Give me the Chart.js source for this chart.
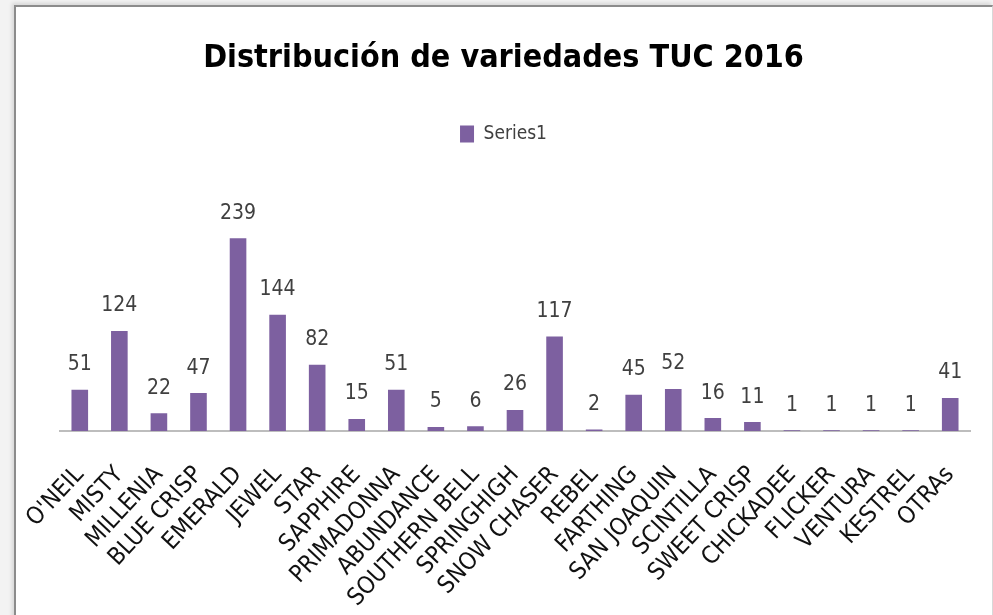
<!DOCTYPE html>
<html>
<head>
<meta charset="utf-8">
<script src="https://cdn.jsdelivr.net/npm/chart.js@4.4.1/dist/chart.umd.min.js"></script>
<style>
  html, body { margin: 0; padding: 0; width: 993px; height: 615px; overflow: hidden; background: #f3f3f3; }
  #frame { position: absolute; left: 14px; top: 5px; width: 976px; height: 640px; background: #fff;
           border-left: 2px solid #8c8c8c; border-top: 2px solid #8c8c8c; border-right: 1px solid #d8d8d8;
           box-shadow: -2px -2px 4px rgba(0,0,0,0.12); }
  #wrap { position: absolute; left: 0; top: 0; width: 993px; height: 615px; }
</style>
</head>
<body>
<div id="frame"></div>
<div id="wrap"><canvas id="c" width="993" height="615"></canvas></div>
<script>
const categories = ["O'NEIL", "MISTY", "MILLENIA", "BLUE CRISP", "EMERALD", "JEWEL", "STAR", "SAPPHIRE",
  "PRIMADONNA", "ABUNDANCE", "SOUTHERN BELL", "SPRINGHIGH", "SNOW CHASER", "REBEL", "FARTHING",
  "SAN JOAQUIN", "SCINTILLA", "SWEET CRISP", "CHICKADEE", "FLICKER", "VENTURA", "KESTREL", "OTRAs"];
const series1 = [51, 124, 22, 47, 239, 144, 82, 15, 51, 5, 6, 26, 117, 2, 45, 52, 16, 11, 1, 1, 1, 1, 41];
const seriesName = "Series1";
const chartTitle = "Distribución de variedades TUC 2016";

const FONT = "'DejaVu Sans Condensed', 'DejaVu Sans', sans-serif";

const valueLabels = {
  id: 'valueLabels',
  afterDatasetsDraw(chart) {
    const ctx = chart.ctx;
    ctx.save();
    ctx.font = "21px " + FONT;
    ctx.fillStyle = '#404040';
    ctx.textAlign = 'center';
    ctx.textBaseline = 'middle';
    const meta = chart.getDatasetMeta(0);
    meta.data.forEach((bar, i) => {
      ctx.fillText(String(chart.data.datasets[0].data[i]), bar.x, bar.y - 25);
    });
    ctx.restore();
  }
};

new Chart(document.getElementById('c'), {
  type: 'bar',
  data: {
    labels: categories,
    datasets: [{
      label: seriesName,
      data: series1,
      backgroundColor: '#7d60a0',
      borderWidth: 0,
      barPercentage: 0.42,
      categoryPercentage: 1.0
    }]
  },
  options: {
    responsive: false,
    animation: false,
    layout: { padding: { left: 37, right: 23, top: 0, bottom: 0 } },
    plugins: {
      title: {
        display: true,
        text: chartTitle,
        color: '#000',
        font: { family: FONT, size: 32, weight: 'bold', lineHeight: 1.2 },
        padding: { top: 39, bottom: 37 }
      },
      legend: {
        display: true,
        labels: {
          color: '#404040',
          font: { family: FONT, size: 19 },
          boxWidth: 14,
          boxHeight: 17,
          padding: 10
        }
      },
      tooltip: { enabled: false }
    },
    scales: {
      x: {
        grid: { display: false, drawTicks: false },
        border: { display: true, color: '#bdbdbd', width: 2 },
        ticks: {
          color: '#111',
          font: { family: FONT, size: 24 },
          minRotation: 47,
          maxRotation: 47,
          autoSkip: false,
          padding: 30
        },
        afterFit(scale) { scale.height = 184; scale.paddingLeft = 0; scale.paddingRight = 0; }
      },
      y: {
        display: true,
        min: 0,
        max: 344,
        grid: { display: false, drawTicks: false },
        border: { display: false },
        ticks: { display: false },
        afterFit(scale) { scale.width = 23; }
      }
    }
  },
  plugins: [valueLabels]
});
</script>
</body>
</html>
